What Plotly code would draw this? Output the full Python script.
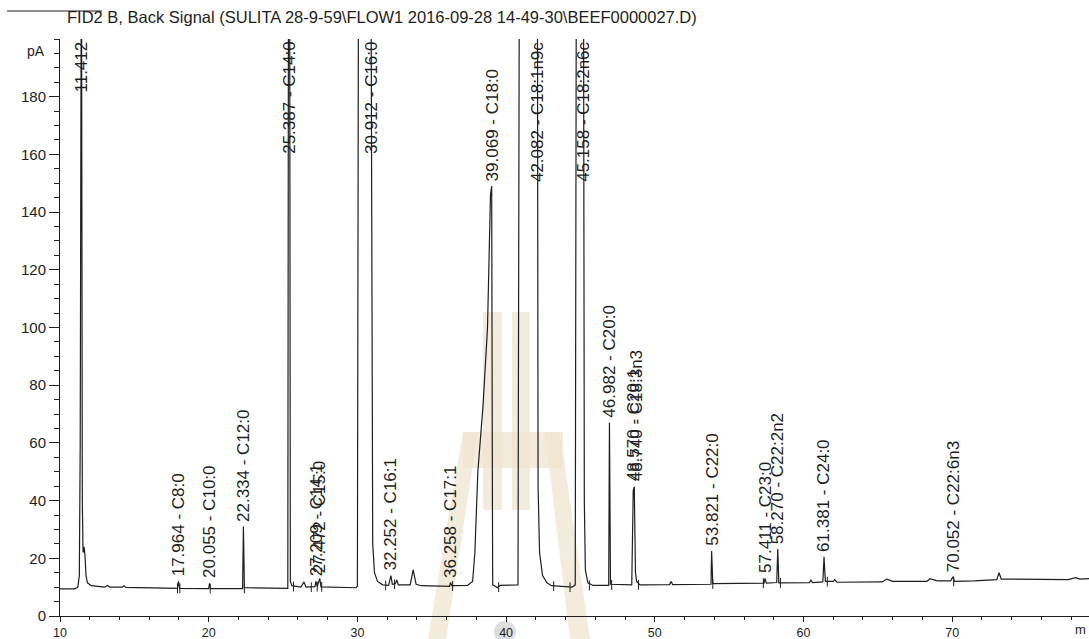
import plotly.graph_objects as go

# ---------------- data ----------------
rt_min = [10.0, 11.0, 11.2, 11.3, 11.36, 11.40, 11.44, 11.50, 11.55, 11.62, 11.68, 11.75, 11.85,
          12.1, 12.6, 13.0, 13.2, 13.35, 14.2, 14.3, 14.45, 16.0,
          17.9, 17.964, 18.05, 20.0, 20.055, 20.12, 22.28, 22.334, 22.40,
          25.32, 25.37, 25.44, 25.49, 25.6, 26.2, 26.4, 26.55,
          27.15, 27.209, 27.3, 27.472, 27.55, 29.9, 30.0, 30.08, 30.9, 30.98, 31.03, 31.15, 31.35, 31.7,
          32.1, 32.252, 32.35, 32.55, 32.65, 32.75, 33.55, 33.75, 33.95, 34.3,
          36.2, 36.258, 36.35, 37.4, 37.75, 37.9, 38.1, 38.45, 38.75, 38.95, 39.03, 39.08, 39.1, 39.3, 39.4, 39.6,
          40.8, 40.9, 42.1, 42.15, 42.25, 42.45, 42.75, 43.05, 44.45, 44.65, 44.73, 45.2, 45.26, 45.33, 45.5, 45.85,
          46.9, 46.95, 47.02, 48.45, 48.55, 48.62, 48.7, 48.78, 49.0, 51.0, 51.1, 51.2,
          53.78, 53.821, 53.9, 57.35, 57.411, 57.5, 58.2, 58.27, 58.34, 60.4, 60.5, 60.6,
          61.3, 61.381, 61.47, 62.0, 62.1, 62.25, 65.3, 65.6, 66.0, 68.3, 68.5, 69.0, 69.9,
          70.052, 70.15, 71.5, 73.0, 73.15, 73.3, 76.0, 77.8, 78.3, 78.6, 79.3]
signal_pA = [9.4, 9.4, 10.0, 14.0, 60.0, 250.0, 250.0, 40.0, 22.0, 24.0, 21.0, 14.0, 11.5,
             10.5, 10.1, 10.0, 10.6, 10.0, 10.0, 10.5, 9.9, 9.7,
             9.6, 12.0, 9.6, 9.5, 11.3, 9.5, 9.5, 31.0, 9.8,
             9.6, 250.0, 250.0, 12.0, 10.5, 10.0, 11.8, 10.0,
             10.2, 12.0, 10.3, 13.0, 10.1, 9.8, 10.3, 250.0, 250.0, 60.0, 25.0, 15.0, 12.0, 10.8,
             10.6, 14.0, 11.0, 11.2, 12.5, 10.8, 10.8, 16.0, 11.0, 10.5,
             10.3, 11.6, 10.5, 10.6, 12.0, 22.0, 50.0, 73.0, 100.0, 146.0, 149.0, 40.0, 10.8, 10.2, 9.8, 10.6,
             10.8, 250.0, 250.0, 45.0, 22.0, 14.0, 11.5, 10.5, 10.0, 10.8, 250.0, 250.0, 40.0, 16.0, 11.5, 10.6,
             10.6, 67.0, 11.0, 10.8, 43.5, 44.8, 15.0, 12.0, 10.8, 10.9, 12.0, 10.9,
             11.0, 22.5, 11.2, 11.4, 13.0, 11.4, 11.6, 23.2, 11.5, 11.6, 12.4, 11.6,
             11.8, 20.5, 12.0, 12.0, 12.6, 11.7, 11.8, 12.8, 12.0, 12.0, 12.9, 12.2, 12.2,
             13.6, 12.0, 12.2, 12.6, 15.0, 12.8, 12.7, 12.6, 13.3, 12.8, 13.0]

peak_rt = [11.412, 17.964, 20.055, 22.334, 25.387, 27.209, 27.472, 30.912, 32.252, 36.258,
           39.069, 42.082, 45.158, 46.982, 48.570, 48.740, 53.821, 57.411, 58.270, 61.381, 70.052]
peak_name = ["", "C8:0", "C10:0", "C12:0", "C14:0", "C14:1", "C15:0", "C16:0", "C16:1", "C17:1",
             "C18:0", "C18:1n9c", "C18:2n6c", "C20:0", "C20:1", "C18:3n3", "C22:0", "C23:0",
             "C22:2n2", "C24:0", "C22:6n3"]
# apex height of each labelled peak (None = off scale, label printed at the top)
peak_apex_pA = [None, 12.0, 11.3, 31.0, None, 12.0, 13.0, None, 14.0, 11.6,
                149.0, None, None, 67.0, 44.8, 44.8, 22.5, 13.0, 23.2, 20.5, 13.6]

# integrator baseline marks (start / end of integration)
mark_rt = [17.9, 18.06, 20.1, 22.4, 25.7, 26.9, 27.3, 27.6, 31.9, 32.5, 36.4, 39.5,
           43.2, 44.3, 45.6, 47.1, 48.9, 53.9, 57.3, 58.45, 61.6, 70.1]
mark_pA = [9.6, 9.6, 9.5, 9.6, 10.2, 10.0, 10.2, 10.1, 10.6, 11.0, 10.4, 10.0,
           10.4, 10.0, 10.6, 10.8, 10.8, 11.1, 11.4, 11.5, 11.9, 12.0]

x_tick_vals = [10, 20, 30, 40, 50, 60, 70]
y_tick_vals = [0, 20, 40, 60, 80, 100, 120, 140, 160, 180]

title_text = "FID2 B, Back Signal (SULITA 28-9-59\\FLOW1 2016-09-28 14-49-30\\BEEF0000027.D)"

# ---------------- layout geometry ----------------
W, H = 1089, 639
ML, MR, MT, MB = 60, 0, 39, 23
PW, PH = W - ML - MR, H - MT - MB
X_RANGE = [10, 10 + PW / 14.87]
Y_RANGE = [0, 200]


def px(xp):
    return (xp - ML) / PW


def py(yp):
    return (H - MB - yp) / PH


INK = "#1e1e1e"
FONT = "Liberation Sans, Arial, sans-serif"

fig = go.Figure()
fig.add_trace(go.Scatter(x=rt_min, y=signal_pA, mode="lines",
                         line=dict(color=INK, width=1.2), hoverinfo="skip", showlegend=False))
fig.add_trace(go.Scatter(x=mark_rt, y=mark_pA, mode="markers",
                         marker=dict(symbol="line-ns", size=7, line=dict(color=INK, width=1)),
                         hoverinfo="skip", showlegend=False))

annotations = []
for rt, name, apex in zip(peak_rt, peak_name, peak_apex_pA):
    label = f"{rt:.3f}" + (f" - {name}" if name else "")
    if apex is None:
        annotations.append(dict(x=rt, xref="x", y=1, yref="paper", yanchor="top", xanchor="center",
                                yshift=-1, text=label, textangle=-90, showarrow=False,
                                font=dict(family=FONT, size=17, color=INK)))
    else:
        annotations.append(dict(x=rt, xref="x", y=apex, yref="y", yanchor="bottom", xanchor="center",
                                yshift=3, text=label, textangle=-90, showarrow=False,
                                font=dict(family=FONT, size=17, color=INK)))

annotations.append(dict(x=px(65), xref="paper", y=py(17), yref="paper", xanchor="left", yanchor="middle",
                        text=title_text, showarrow=False, font=dict(family=FONT, size=16.5, color=INK)))
annotations.append(dict(x=0, xref="paper", y=196, yref="y", xanchor="right", yanchor="middle", xshift=-13,
                        text="pA", showarrow=False, font=dict(family=FONT, size=14, color=INK)))
annotations.append(dict(x=1, xref="paper", y=py(629), yref="paper", xanchor="right", yanchor="middle",
                        xshift=-1, text="m", showarrow=False, font=dict(family=FONT, size=13, color=INK)))

BEIGE = "rgba(238,228,206,0.7)"
shapes = [
    dict(type="line", xref="paper", yref="paper", x0=px(7), x1=px(102), y0=py(11), y1=py(11),
         line=dict(color=INK, width=1)),
    # watermark (university logo, faint)
    dict(type="rect", xref="paper", yref="paper", x0=px(483), x1=px(502), y0=py(312), y1=py(510),
         fillcolor=BEIGE, line=dict(width=0), layer="below"),
    dict(type="rect", xref="paper", yref="paper", x0=px(512), x1=px(530), y0=py(312), y1=py(510),
         fillcolor=BEIGE, line=dict(width=0), layer="below"),
    dict(type="rect", xref="paper", yref="paper", x0=px(463), x1=px(563), y0=py(432), y1=py(468),
         fillcolor=BEIGE, line=dict(width=0), layer="below"),
    dict(type="path", xref="paper", yref="paper",
         path=f"M {px(463)} {py(432)} L {px(478)} {py(432)} L {px(446)} {py(639)} L {px(428)} {py(639)} Z",
         fillcolor=BEIGE, line=dict(width=0), layer="below"),
    dict(type="path", xref="paper", yref="paper",
         path=f"M {px(545)} {py(432)} L {px(560)} {py(432)} L {px(590)} {py(639)} L {px(570)} {py(639)} Z",
         fillcolor=BEIGE, line=dict(width=0), layer="below"),
    dict(type="circle", xref="paper", yref="paper", x0=px(494), x1=px(516), y0=py(643), y1=py(621),
         fillcolor="rgba(200,200,200,0.6)", line=dict(width=0), layer="below"),
]

fig.update_layout(
    width=W, height=H,
    margin=dict(l=ML, r=MR, t=MT, b=MB, pad=0, autoexpand=False),
    paper_bgcolor="white", plot_bgcolor="white",
    showlegend=False,
    annotations=annotations, shapes=shapes,
    font=dict(family=FONT, color=INK),
)
fig.update_xaxes(range=X_RANGE, tickmode="array", tickvals=x_tick_vals, ticks="outside", ticklen=5,
                 tickwidth=1, tickcolor=INK, showline=True, linecolor=INK, linewidth=1, automargin=False,
                 showgrid=False, zeroline=False, tickfont=dict(family=FONT, size=12.5, color=INK),
                 minor=dict(dtick=2, tick0=10, ticks="outside", ticklen=3, tickcolor=INK, showgrid=False))
fig.update_yaxes(range=Y_RANGE, tickmode="array", tickvals=y_tick_vals, ticks="outside", ticklen=10,
                 tickwidth=1, tickcolor=INK, showline=True, linecolor=INK, linewidth=1, automargin=False,
                 showgrid=False, zeroline=False, tickfont=dict(family=FONT, size=15, color=INK),
                 minor=dict(dtick=5, tick0=0, ticks="outside", ticklen=5, tickcolor=INK, showgrid=False))

fig.write_html("out.html", config={"displayModeBar": False},
               post_script="document.body.style.margin='0px';document.body.style.overflow='hidden';")
